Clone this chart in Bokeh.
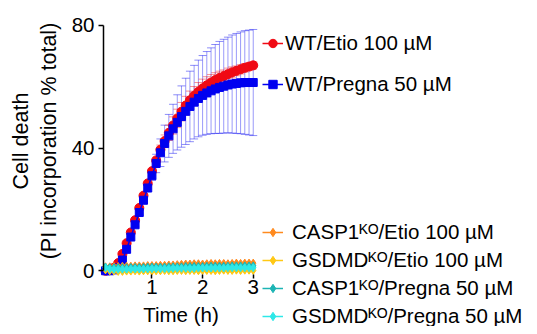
from bokeh.plotting import figure
from bokeh.models import (ColumnDataSource, Whisker, TeeHead, Legend, LegendItem,
                          Label, FixedTicker, Range1d)
from bokeh.embed import file_html
from bokeh.resources import INLINE
import math

# ---------------- data ----------------
time_h = [0.083, 0.167, 0.25, 0.333, 0.417, 0.5, 0.583, 0.667, 0.75, 0.833, 0.917, 1.0,
          1.083, 1.167, 1.25, 1.333, 1.417, 1.5, 1.583, 1.667, 1.75, 1.833, 1.917, 2.0,
          2.083, 2.167, 2.25, 2.333, 2.417, 2.5, 2.583, 2.667, 2.75, 2.833, 2.917, 3.0]

wt_etio = [0.0, 0.2, 1.0, 2.5, 5.5, 9.0, 12.5, 16.5, 20.5, 24.5, 28.5, 32.5,
           36.0, 39.5, 42.3, 45.0, 47.4, 49.7, 51.9, 53.9, 55.6, 57.1, 58.4, 59.5,
           60.5, 61.4, 62.2, 62.9, 63.5, 64.1, 64.7, 65.2, 65.7, 66.2, 66.6, 67.0]
wt_etio_sd = [0, 0, 0, 0, 0, 0, 0, 0, 0, 0, 0, 0,
              1.0, 1.5, 2.0, 2.5, 2.8, 3.0, 3.0, 3.0, 3.0, 3.0, 3.0, 3.0,
              2.8, 2.6, 2.4, 2.2, 2.0, 2.0, 1.8, 1.6, 1.5, 1.4, 1.3, 1.2]

wt_pregna = [0.0, 0.0, 0.3, 1.0, 3.5, 7.0, 11.0, 15.0, 19.0, 23.0, 27.0, 31.0,
             35.0, 38.5, 41.5, 44.0, 46.3, 48.4, 50.3, 52.0, 53.6, 55.0, 56.2, 57.2,
             58.0, 58.7, 59.3, 59.8, 60.2, 60.6, 60.9, 61.1, 61.3, 61.4, 61.4, 61.4]
wt_pregna_sd = [0, 0, 0, 0, 0, 0, 0, 0.5, 0.8, 1.0, 1.2, 1.5,
                3.0, 4.5, 6.0, 7.0, 8.0, 9.0, 10.0, 10.8, 11.5, 12.0, 12.5, 13.0,
                13.5, 14.0, 14.5, 15.0, 15.3, 15.6, 16.0, 16.3, 16.6, 16.9, 17.1, 17.3]

casp1_etio = [1.3, 1.3, 1.4, 1.4, 1.5, 1.5, 1.5, 1.6, 1.6, 1.6, 1.7, 1.7,
              1.7, 1.8, 1.8, 1.9, 1.9, 2.0, 2.1, 2.2, 2.2, 2.3, 2.3, 2.2,
              2.3, 2.4, 2.3, 2.4, 2.4, 2.3, 2.4, 2.5, 2.4, 2.5, 2.5, 2.5]
gsdmd_etio = [0.3, 0.0, -0.1, -0.2, -0.2, -0.1, -0.1, 0.0, -0.1, 0.0, 0.0, -0.1,
              0.0, 0.0, 0.1, 0.0, 0.0, 0.1, 0.1, 0.0, 0.1, 0.1, 0.0, 0.1,
              0.1, 0.1, 0.0, 0.1, 0.2, 0.1, 0.1, 0.2, 0.1, 0.2, 0.2, 0.1]
casp1_pregna = [1.2, 1.0, 1.0, 1.0, 1.0, 1.0, 1.1, 1.1, 1.1, 1.1, 1.2, 1.2,
                1.2, 1.2, 1.2, 1.3, 1.3, 1.3, 1.3, 1.4, 1.4, 1.4, 1.4, 1.4,
                1.5, 1.5, 1.5, 1.5, 1.5, 1.5, 1.6, 1.6, 1.6, 1.6, 1.6, 1.6]
gsdmd_pregna = [1.0, 0.6, 0.5, 0.5, 0.5, 0.5, 0.6, 0.6, 0.6, 0.6, 0.6, 0.7,
                0.7, 0.7, 0.7, 0.7, 0.8, 0.8, 0.8, 0.8, 0.8, 0.8, 0.9, 0.9,
                0.9, 0.9, 0.9, 0.9, 0.9, 1.0, 1.0, 1.0, 1.0, 1.0, 1.0, 1.0]

labels_wt = ["WT/Etio 100 \u00b5M", "WT/Pregna 50 \u00b5M"]
labels_ko = ["CASP1\u1d37\u1d3c/Etio 100 \u00b5M", "GSDMD\u1d37\u1d3c/Etio 100 \u00b5M",
             "CASP1\u1d37\u1d3c/Pregna 50 \u00b5M", "GSDMD\u1d37\u1d3c/Pregna 50 \u00b5M"]
x_ticks = [1, 2, 3]
y_ticks = [0, 40, 80]

FONT = "Liberation Sans"
RED, BLUE = "#f00a14", "#0000f0"
ORANGE, YELLOW, TEAL, CYAN = "#ff8a1e", "#ffc814", "#1cb4b4", "#2ee8e8"

W, H = 529, 326

# ---------------- figure (frame fills the canvas, axes fixed inside) ----------------
p = figure(width=W, height=H,
           x_range=Range1d(-1.990, 8.454), y_range=Range1d(-18.17, 88.15),
           min_border=0, min_border_left=0, min_border_right=0,
           min_border_top=0, min_border_bottom=0,
           output_backend="svg", toolbar_location=None)
p.outline_line_color = None
p.xgrid.visible = False
p.ygrid.visible = False
p.background_fill_color = "white"

ya = p.yaxis[0]
ya.fixed_location = 0.043
ya.ticker = FixedTicker(ticks=y_ticks)
ya.bounds = (0, 80)
ya.axis_line_width = 1.5
ya.major_tick_line_width = 1.5
ya.major_tick_out = 5
ya.major_tick_in = 0
ya.minor_tick_out = 0
ya.minor_tick_in = 0
ya.major_label_standoff = 4
ya.major_label_text_font = FONT
ya.major_label_text_font_size = "20.5px"
ya.major_label_text_color = "black"

xa = p.xaxis[0]
xa.fixed_location = -1.2
xa.ticker = FixedTicker(ticks=x_ticks)
xa.axis_line_color = None
xa.major_tick_line_width = 1.5
xa.major_tick_out = 4
xa.major_tick_in = 0
xa.minor_tick_out = 0
xa.minor_tick_in = 0
xa.major_label_standoff = 2
xa.major_label_text_font = FONT
xa.major_label_text_font_size = "20.5px"
xa.major_label_text_color = "black"

# error bars
def add_err(vals, sds, color):
    t = [ti for ti, s in zip(time_h, sds) if s > 0]
    up = [v + s for v, s in zip(vals, sds) if s > 0]
    lo = [v - s for v, s in zip(vals, sds) if s > 0]
    src = ColumnDataSource(dict(t=t, up=up, lo=lo))
    w = Whisker(source=src, base="t", upper="up", lower="lo", dimension="height",
                line_color=color, line_alpha=0.4, line_width=1, level="underlay",
                upper_head=TeeHead(size=8, line_color=color, line_alpha=0.45, line_width=1),
                lower_head=TeeHead(size=8, line_color=color, line_alpha=0.45, line_width=1))
    p.add_layout(w)

add_err(wt_pregna, wt_pregna_sd, BLUE)
add_err(wt_etio, wt_etio_sd, RED)

def series(vals, color, marker, size):
    l = p.line(time_h, vals, line_color=color, line_width=1.5)
    s = p.scatter(time_h, vals, marker=marker, size=size, fill_color=color, line_color=color)
    return [l, s]

r_red = series(wt_etio, RED, "circle", 9)
r_blue = series(wt_pregna, BLUE, "square", 8)
r_or = series(casp1_etio, ORANGE, "diamond", 8)
r_ye = series(gsdmd_etio, YELLOW, "diamond", 8)
r_te = series(casp1_pregna, TEAL, "diamond", 8)
r_cy = series(gsdmd_pregna, CYAN, "diamond", 8)

def make_legend(items, loc, spacing, standoff, fsize):
    lg = Legend(items=items, location=loc, orientation="vertical",
                glyph_width=21, glyph_height=24, label_height=24,
                label_standoff=standoff, spacing=spacing, padding=0, margin=0,
                background_fill_alpha=0, border_line_color=None,
                label_text_font=FONT, label_text_font_size=fsize,
                label_text_color="black")
    p.add_layout(lg)

make_legend([LegendItem(label=labels_wt[0], renderers=r_red),
             LegendItem(label=labels_wt[1], renderers=r_blue)],
            (262, 230), 17, 2, "20.5px")
make_legend([LegendItem(label=labels_ko[0], renderers=r_or),
             LegendItem(label=labels_ko[1], renderers=r_ye),
             LegendItem(label=labels_ko[2], renderers=r_te),
             LegendItem(label=labels_ko[3], renderers=r_cy)],
            (262, -2), 4, 9, "20.5px")

# axis titles
for xs, txt in [(20.5, "Cell death"), (48, "(PI incorporation % total)")]:
    p.add_layout(Label(x=xs, y=185.5, x_units="screen", y_units="screen", text=txt,
                       angle=math.pi / 2, text_align="center", text_baseline="middle",
                       text_font=FONT, text_font_size="21.5px", text_color="black"))
p.add_layout(Label(x=180.5, y=12, x_units="screen", y_units="screen", text="Time (h)",
                   text_align="center", text_baseline="middle",
                   text_font=FONT, text_font_size="20.5px", text_color="black"))

open("out.html", "w").write(file_html(p, INLINE))
